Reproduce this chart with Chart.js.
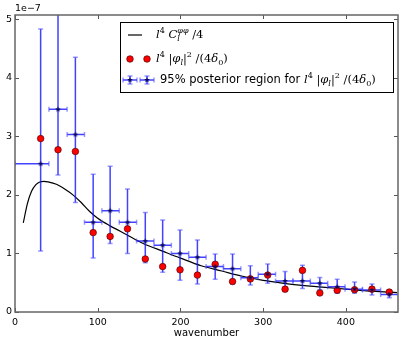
<!DOCTYPE html>
<html>
<head>
<meta charset="utf-8">
<script src="https://cdn.jsdelivr.net/npm/chart.js@4/dist/chart.umd.min.js"></script>
<style>
  html, body { margin: 0; padding: 0; background: #fff; }
</style>
</head>
<body>
<canvas id="chart" width="404" height="346"></canvas>
<script>
// values on the y axis are in units of 1e-7
const binCenters = [31, 52, 73, 94.5, 115, 136, 157.5, 178.5, 199.5, 220.5, 242, 263, 284.5, 305.5, 326.5, 347.5, 368.5, 389.5, 410.5, 431.5, 452.5];
const binLow  = [0, 41, 63, 84, 105, 126, 147, 168, 189, 210, 231, 252, 273, 294, 315, 336, 357, 378, 399, 420, 442];
const binHigh = [41, 63, 84, 105, 126, 147, 168, 189, 210, 231, 252, 273, 294, 315, 336, 357, 378, 399, 420, 442, 470];
const posteriorMean = [2.53, 3.46, 3.03, 1.53, 1.73, 1.53, 1.21, 1.14, 1.00, 0.935, 0.775, 0.74, 0.585, 0.645, 0.53, 0.53, 0.49, 0.43, 0.39, 0.375, 0.30];
const posteriorLow  = [1.04, 2.34, 1.87, 0.92, 1.17, 1.00, 0.84, 0.68, 0.54, 0.48, 0.56, 0.48, 0.46, 0.49, 0.35, 0.40, 0.38, 0.32, 0.32, 0.29, 0.245];
const posteriorHigh = [4.83, 5.60, 4.35, 2.35, 2.49, 2.10, 1.70, 1.57, 1.40, 1.23, 0.99, 0.99, 0.79, 0.82, 0.69, 0.80, 0.59, 0.56, 0.51, 0.48, 0.38];
const phiPower = [2.96, 2.77, 2.74, 1.355, 1.29, 1.42, 0.905, 0.775, 0.72, 0.63, 0.815, 0.52, 0.565, 0.63, 0.39, 0.71, 0.325, 0.37, 0.38, 0.39, 0.34];
const theoryL = [10, 15, 20, 25, 30, 35, 40, 50, 60, 70, 80, 90, 100, 115, 135, 155, 180, 200, 225, 250, 275, 300, 325, 350, 375, 400, 425, 450, 462];
const theoryPower = [1.52, 1.85, 2.06, 2.17, 2.22, 2.23, 2.22, 2.18, 2.10, 2.00, 1.87, 1.72, 1.60, 1.47, 1.32, 1.17, 1.03, 0.92, 0.79, 0.70, 0.61, 0.54, 0.49, 0.45, 0.42, 0.39, 0.36, 0.34, 0.33];
const xTicks = [0, 100, 200, 300, 400];
const yTicks = [0, 1, 2, 3, 4, 5];

const errColor = 'rgba(20,20,255,0.8)';
const capColor = 'rgba(70,70,255,0.55)';
const starColor = '#0b0b5a';

function starImage(r, color) {
  const c = document.createElement('canvas');
  c.width = c.height = Math.ceil(2 * r + 2);
  const g = c.getContext('2d');
  const m = c.width / 2;
  g.beginPath();
  for (let k = 0; k < 10; k++) {
    const a = -Math.PI / 2 + k * Math.PI / 5;
    const rr = k % 2 ? r * 0.42 : r;
    g.lineTo(m + rr * Math.cos(a), m + rr * Math.sin(a));
  }
  g.closePath();
  g.fillStyle = color;
  g.fill();
  return c;
}
const star = starImage(3, starColor);

function drawErrorBars(chart) {
  const ctx = chart.ctx, xs = chart.scales.x, ys = chart.scales.y, a = chart.chartArea;
  ctx.save();
  ctx.beginPath();
  ctx.rect(a.left, a.top, a.right - a.left, a.bottom - a.top);
  ctx.clip();
  ctx.lineWidth = 1.5;
  for (let i = 0; i < binCenters.length; i++) {
    const x = xs.getPixelForValue(binCenters[i]);
    const y = ys.getPixelForValue(posteriorMean[i]);
    const y0 = ys.getPixelForValue(posteriorLow[i]);
    const y1 = ys.getPixelForValue(posteriorHigh[i]);
    const x0 = xs.getPixelForValue(binLow[i]);
    const x1 = xs.getPixelForValue(binHigh[i]);
    ctx.strokeStyle = errColor;
    ctx.beginPath();
    ctx.moveTo(x, y0); ctx.lineTo(x, y1);
    ctx.moveTo(x0, y); ctx.lineTo(x1, y);
    ctx.stroke();
    ctx.strokeStyle = capColor;
    ctx.beginPath();
    ctx.moveTo(x - 2.5, y0); ctx.lineTo(x + 2.5, y0);
    ctx.moveTo(x - 2.5, y1); ctx.lineTo(x + 2.5, y1);
    ctx.moveTo(x0, y - 2.5); ctx.lineTo(x0, y + 2.5);
    ctx.moveTo(x1, y - 2.5); ctx.lineTo(x1, y + 2.5);
    ctx.stroke();
  }
  ctx.restore();
}

// draws a little math string made of runs
function drawRuns(ctx, x, y, runs, size) {
  ctx.textBaseline = 'middle';
  ctx.textAlign = 'left';
  ctx.fillStyle = '#000';
  let lastX = x;
  for (const r of runs) {
    const fs = r.p ? size * 0.7 : size;
    const fam = r.s ? '"DejaVu Sans"' : '"DejaVu Serif"';
    ctx.font = (r.i ? 'italic ' : '') + fs + 'px ' + fam;
    const dy = r.p === 'sup' ? -size * 0.38 : r.p === 'sub' ? size * 0.3 : 0;
    const sx = r.same ? lastX : x;
    ctx.fillText(r.t, sx, y + dy);
    lastX = sx;
    const w = ctx.measureText(r.t).width;
    if (!r.noadv) x = Math.max(x, sx + w);
  }
}

const phiRuns = [
  { t: 'l', i: 1 }, { t: '4', p: 'sup' }, { t: ' |' }, { t: 'φ', i: 1 }, { t: 'l', i: 1, p: 'sub' },
  { t: '|' }, { t: '2', p: 'sup' }, { t: ' /(4' }, { t: 'δ', i: 1 }, { t: '0', p: 'sub' }, { t: ')' }
];
const theoryRuns = [
  { t: 'l', i: 1 }, { t: '4', p: 'sup' }, { t: ' ' }, { t: 'C', i: 1 },
  { t: 'l', i: 1, p: 'sub', noadv: 1 }, { t: 'φφ', i: 1, p: 'sup', same: 1 }, { t: ' /4' }
];

function drawLegend(chart) {
  const ctx = chart.ctx;
  ctx.save();
  ctx.fillStyle = '#fff';
  ctx.fillRect(120.5, 22.5, 273, 70);
  ctx.strokeStyle = '#000';
  ctx.lineWidth = 1;
  ctx.strokeRect(120.5, 22.5, 273, 70);

  // row 1: theory line
  ctx.strokeStyle = '#000';
  ctx.lineWidth = 1.2;
  ctx.beginPath(); ctx.moveTo(128, 35); ctx.lineTo(142, 35); ctx.stroke();
  drawRuns(ctx, 156, 35, theoryRuns, 11.5);

  // row 2: red dots
  for (const cx of [130, 147]) {
    ctx.beginPath(); ctx.arc(cx, 59, 3.3, 0, Math.PI * 2);
    ctx.fillStyle = '#ff0000'; ctx.fill();
    ctx.strokeStyle = 'rgba(70,0,0,0.8)'; ctx.lineWidth = 0.8; ctx.stroke();
  }
  drawRuns(ctx, 156, 59, phiRuns, 11.5);

  // row 3: error bar samples
  for (const cx of [130, 147]) {
    ctx.lineWidth = 1.5;
    ctx.strokeStyle = errColor;
    ctx.beginPath();
    ctx.moveTo(cx - 7, 80); ctx.lineTo(cx + 7, 80);
    ctx.moveTo(cx, 76); ctx.lineTo(cx, 84);
    ctx.stroke();
    ctx.strokeStyle = capColor;
    ctx.beginPath();
    ctx.moveTo(cx - 7, 77.5); ctx.lineTo(cx - 7, 82.5);
    ctx.moveTo(cx + 7, 77.5); ctx.lineTo(cx + 7, 82.5);
    ctx.moveTo(cx - 2.5, 76); ctx.lineTo(cx + 2.5, 76);
    ctx.moveTo(cx - 2.5, 84); ctx.lineTo(cx + 2.5, 84);
    ctx.stroke();
    ctx.drawImage(star, cx - star.width / 2, 80 - star.height / 2);
  }
  drawRuns(ctx, 160, 80, [{ t: '95% posterior region for ', s: 1 }].concat(phiRuns), 11.5);
  ctx.restore();
}

const framePlugin = {
  id: 'frame',
  afterDatasetDraw(chart, args) {
    // error bars go above the theory curve, below the red dots and the stars
    if (args.index === 2) drawErrorBars(chart);
  },
  afterDraw(chart) {
    const ctx = chart.ctx, a = chart.chartArea, xs = chart.scales.x, ys = chart.scales.y;
    ctx.save();
    ctx.strokeStyle = '#555';
    ctx.lineWidth = 1;
    ctx.beginPath();
    for (const v of xTicks) {
      const x = Math.round(xs.getPixelForValue(v)) + 0.5;
      ctx.moveTo(x, a.bottom); ctx.lineTo(x, a.bottom - 4);
      ctx.moveTo(x, a.top); ctx.lineTo(x, a.top + 4);
    }
    for (const v of yTicks) {
      const y = Math.round(ys.getPixelForValue(v)) + 0.5;
      ctx.moveTo(a.left, y); ctx.lineTo(a.left + 4, y);
      ctx.moveTo(a.right, y); ctx.lineTo(a.right - 4, y);
    }
    ctx.stroke();
    ctx.strokeStyle = '#666';
    ctx.lineWidth = 1.5;
    ctx.strokeRect(a.left, a.top, a.right - a.left, a.bottom - a.top);
    ctx.fillStyle = '#000';
    ctx.font = '9.5px "DejaVu Sans"';
    ctx.textBaseline = 'middle';
    ctx.textAlign = 'left';
    ctx.fillText('1e\u22127', a.left, 9);
    ctx.restore();
    drawLegend(chart);
  }
};

const tickFont = { family: 'DejaVu Sans', size: 9.5 };

new Chart(document.getElementById('chart'), {
  type: 'scatter',
  data: {
    datasets: [{
      label: '95% posterior region',
      data: binCenters.map((x, i) => ({ x: x, y: posteriorMean[i] })),
      pointStyle: star,
      order: 0
    }, {
      label: 'phi power',
      data: binCenters.map((x, i) => ({ x: x, y: phiPower[i] })),
      backgroundColor: '#ff0000',
      borderColor: 'rgba(70,0,0,0.8)',
      borderWidth: 0.8,
      pointRadius: 3.3,
      order: 1
    }, {
      type: 'line',
      label: 'theory',
      data: theoryL.map((x, i) => ({ x: x, y: theoryPower[i] })),
      borderColor: '#000',
      borderWidth: 1.2,
      pointRadius: 0,
      fill: false,
      cubicInterpolationMode: 'monotone',
      order: 2
    }]
  },
  options: {
    responsive: false,
    animation: false,
    devicePixelRatio: 1,
    layout: { padding: { top: 15, right: 6, left: 0, bottom: 0 } },
    plugins: { legend: { display: false }, tooltip: { enabled: false } },
    scales: {
      x: {
        type: 'linear',
        min: 0,
        max: 463,
        grid: { display: false, drawTicks: false },
        border: { display: false },
        ticks: { color: '#000', font: tickFont, padding: 5, maxRotation: 0 },
        afterBuildTicks: s => { s.ticks = xTicks.map(v => ({ value: v })); },
        afterFit: s => { s.height = 34; },
        title: {
          display: true,
          text: 'wavenumber',
          color: '#000',
          font: { family: 'DejaVu Sans', size: 10 },
          padding: { top: 0, bottom: 7 }
        }
      },
      y: {
        type: 'linear',
        min: 0,
        max: 5.07,
        grid: { display: false, drawTicks: false },
        border: { display: false },
        ticks: { color: '#000', font: tickFont, padding: 3 },
        afterBuildTicks: s => { s.ticks = yTicks.map(v => ({ value: v })); },
        afterFit: s => { s.width = 15; }
      }
    }
  },
  plugins: [framePlugin]
});
</script>
</body>
</html>
